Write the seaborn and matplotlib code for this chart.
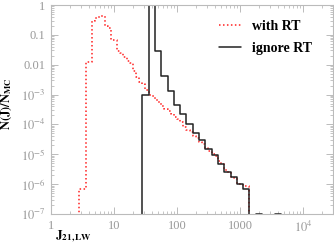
import matplotlib
matplotlib.use("Agg")
import matplotlib.pyplot as plt
import matplotlib.ticker as mticker
import seaborn as sns
import numpy as np
import pandas as pd

# ---- data (log10 bin edges and bin values) ----
red_edges_log = [0.45, 0.50, 0.55, 0.60, 0.65, 0.70, 0.75, 0.80, 0.85, 0.90,
                 0.95, 1.00, 1.05, 1.10, 1.15, 1.20, 1.25, 1.30, 1.35, 1.40,
                 1.45, 1.50, 1.55, 1.60, 1.65, 1.70, 1.75, 1.80, 1.85, 1.90,
                 1.95, 2.00, 2.05, 2.10, 2.15, 2.20, 2.25, 2.30, 2.35, 2.40,
                 2.45, 2.50, 2.55, 2.60, 2.65, 2.70, 2.75, 2.80, 2.85, 2.90,
                 2.95, 3.00, 3.05, 3.10, 3.15]
red_values = [6.8e-7, 6.8e-7, 0.0126, 0.0126, 0.30, 0.36, 0.41, 0.44, 0.20, 0.17,
              0.068, 0.068, 0.028, 0.024, 0.018, 0.013, 0.011, 0.006, 0.0038, 0.0027,
              0.0022, 0.0014, 0.0010, 9.0e-4, 6.5e-4, 5.5e-4, 4.2e-4, 3.3e-4, 2.8e-4, 2.2e-4,
              1.8e-4, 1.5e-4, 1.2e-4, 8.5e-5, 6.5e-5, 5.5e-5, 4.0e-5, 3.4e-5, 2.6e-5, 2.2e-5,
              1.6e-5, 1.3e-5, 1.0e-5, 9.0e-6, 6.0e-6, 4.8e-6, 3.0e-6, 2.6e-6, 1.8e-6, 1.6e-6,
              1.0e-6, 1.0e-6, 8.5e-7, 8.5e-7]

black_edges_log = [1.45, 1.55, 1.65, 1.75, 1.85, 1.95, 2.05, 2.15, 2.25, 2.35,
                   2.45, 2.55, 2.65, 2.75, 2.85, 2.95, 3.05, 3.15, 3.25, 3.35,
                   3.45, 3.55, 3.65]
black_values = [1.0e-3, 0.98, 0.028, 0.0041, 1.3e-3, 4.6e-4, 2.2e-4, 1.07e-4, 5.0e-5, 3.0e-5,
                1.55e-5, 9.3e-6, 4.6e-6, 2.6e-6, 1.67e-6, 1.0e-6, 6.8e-7, 1e-9, 1.0e-7, 1e-9,
                1e-9, 1.0e-7]

series_labels = ["with RT", "ignore RT"]
x_tick_labels = ["1", "10", "100", "1000", r"$10^4$"]
y_tick_labels = [r"$10^{-7}$", r"$10^{-6}$", r"$10^{-5}$", r"$10^{-4}$", r"$10^{-3}$",
                 "0.01", "0.1", "1"]

FLOOR = 1e-9


def step_frame(edges_log, values):
    x = [10 ** edges_log[0]] + [10 ** e for e in edges_log]
    y = [FLOOR] + list(values) + [FLOOR]
    return pd.DataFrame({"J": x, "N": y})


sns.set_theme(style="white")
plt.rcParams["font.family"] = ["Liberation Serif", "DejaVu Serif"]
plt.rcParams["mathtext.fontset"] = "stix"

fig = plt.figure(figsize=(3.34, 2.47), dpi=100)
ax = fig.add_axes([51 / 334, 33 / 247, 282 / 334, 209 / 247])

red_df = step_frame(red_edges_log, red_values)
blk_df = step_frame(black_edges_log, black_values)

sns.lineplot(data=red_df, x="J", y="N", ax=ax, sort=False, estimator=None,
             drawstyle="steps-post", color="#ff2020", linestyle=(0, (1, 1.6)),
             linewidth=1.1, label=series_labels[0])
sns.lineplot(data=blk_df, x="J", y="N", ax=ax, sort=False, estimator=None,
             drawstyle="steps-post", color="#222222", linewidth=1.1,
             label=series_labels[1])

ax.set_xscale("log")
ax.set_yscale("log")
ax.set_xlim(1, 3e4)
ax.set_ylim(1e-7, 1)

grey = "#999999"
for s in ax.spines.values():
    s.set_color("#bbbbbb")
    s.set_linewidth(0.8)

ax.set_xticks([1, 10, 100, 1000, 1e4])
ax.set_xticklabels(x_tick_labels)
ax.set_yticks([1e-7, 1e-6, 1e-5, 1e-4, 1e-3, 1e-2, 1e-1, 1])
ax.set_yticklabels(y_tick_labels)
ax.xaxis.set_minor_locator(mticker.LogLocator(base=10, subs=np.arange(2, 10)))
ax.yaxis.set_minor_locator(mticker.LogLocator(base=10, subs=np.arange(2, 10)))
ax.xaxis.set_minor_formatter(mticker.NullFormatter())
ax.yaxis.set_minor_formatter(mticker.NullFormatter())
ax.tick_params(which="both", direction="in", top=True, right=True,
               bottom=True, left=True, color="#bbbbbb", labelcolor=grey,
               labelsize=9)
ax.tick_params(which="major", length=5, width=0.7, pad=4)
ax.tick_params(which="minor", length=2.5, width=0.6)

ax.set_xlabel("")
ax.set_ylabel("")
fig.text(0.022, 0.58, r"$\mathbf{N(J)/N_{MC}}$", rotation=90, ha="center",
         va="center", fontsize=9, color="black")
fig.text(55 / 334, 1 - 236 / 247, r"$\mathbf{J_{21,LW}}$", ha="left",
         va="center", fontsize=9.5, color="black")

leg = ax.legend(loc="upper right", frameon=False, fontsize=10,
                handlelength=1.6, handletextpad=0.8, labelspacing=0.7,
                bbox_to_anchor=(0.97, 0.99))
for t in leg.get_texts():
    t.set_fontweight("bold")
    t.set_color("black")

fig.savefig("out.png", dpi=100)
